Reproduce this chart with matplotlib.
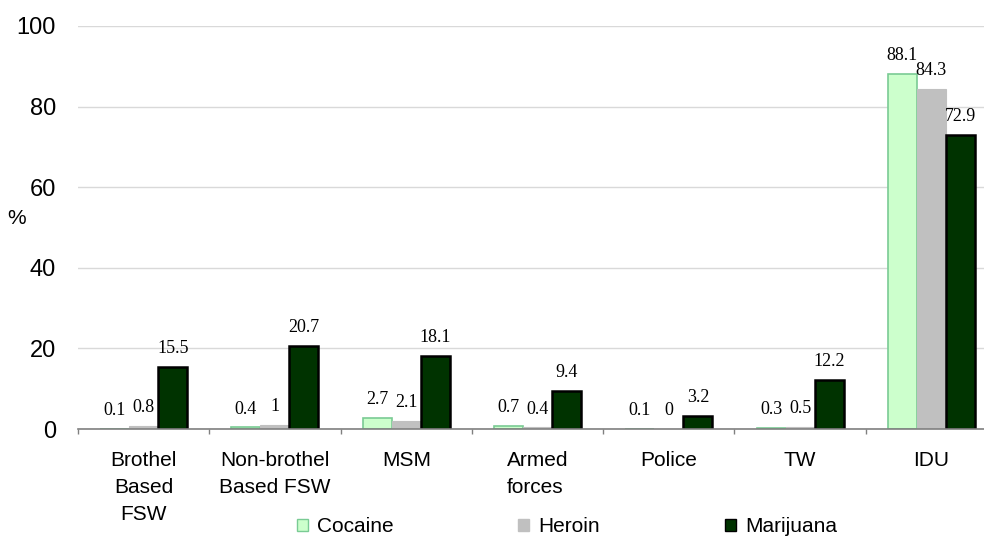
import matplotlib
matplotlib.use("Agg")
import matplotlib.pyplot as plt
import numpy as np
from matplotlib.patches import Patch

categories = ["Brothel\nBased\nFSW", "Non-brothel\nBased FSW", "MSM", "Armed\nforces",
              "Police", "TW", "IDU"]
series_names = ["Cocaine", "Heroin", "Marijuana"]
cocaine = [0.1, 0.4, 2.7, 0.7, 0.1, 0.3, 88.1]
heroin = [0.8, 1, 2.1, 0.4, 0, 0.5, 84.3]
marijuana = [15.5, 20.7, 18.1, 9.4, 3.2, 12.2, 72.9]
yticks = [0, 20, 40, 60, 80, 100]

fill_colors = ["#CCFFCC", "#C0C0C0", "#003300"]
edge_colors = ["#7ACB94", "#C0C0C0", "#000000"]
edge_widths = [1.2, 0.8, 1.8]

plt.rcParams['font.family'] = ['Liberation Sans', 'DejaVu Sans']

fig = plt.figure(figsize=(9.84, 5.36), dpi=100)
ax = fig.add_axes([0.0793, 0.1996, 0.934, 0.7519])

x = np.arange(len(categories))
w = 0.221
data = [cocaine, heroin, marijuana]
for i, (vals, name) in enumerate(zip(data, series_names)):
    pos = x + (i - 1) * w
    ax.bar(pos, vals, width=w, color=fill_colors[i], edgecolor=edge_colors[i],
           linewidth=edge_widths[i], label=name, zorder=3)
    for px, v in zip(pos, vals):
        ax.annotate(f"{v:g}", (px, v), xytext=(0, 10), textcoords="offset points",
                    ha="center", va="baseline", fontsize=13,
                    family=['Liberation Serif', 'DejaVu Serif'], zorder=4)

ax.set_xlim(-0.5, len(categories) - 0.5)
ax.set_ylim(0, 100)
ax.set_yticks(yticks)
ax.tick_params(axis='y', length=0, pad=16, labelsize=17)
ax.yaxis.grid(True, color="#D9D9D9", linewidth=1.0, zorder=0)
ax.set_axisbelow(True)

ax.set_xticks(np.arange(-0.5, len(categories)), labels=[""] * (len(categories) + 1))
ax.set_xticks(x, labels=categories, minor=True, linespacing=1.56)
ax.tick_params(axis='x', which='major', length=3.6, width=1.0, color="#808080", direction='out')
ax.tick_params(axis='x', which='minor', length=0, pad=15.5, labelsize=15)
for lbl in ax.get_xticklabels(minor=True):
    lbl.set_linespacing(1.56)
    if lbl.get_text().startswith("Armed"):
        lbl.set_multialignment("left")

for s in ["left", "right", "top"]:
    ax.spines[s].set_visible(False)
ax.spines["bottom"].set_color("#808080")
ax.spines["bottom"].set_linewidth(1.2)
ax.spines["bottom"].set_zorder(5)

fig.text(17 / 984, 1 - 218 / 536, "%", fontsize=15, ha="center", va="center")

legend_x = [297 / 984, 518 / 984, 725 / 984]
for i, name in enumerate(series_names):
    h = Patch(facecolor=fill_colors[i], edgecolor=edge_colors[i] if i != 1 else fill_colors[i],
              linewidth=1.0)
    fig.legend(handles=[h], labels=[name], loc="center left",
               bbox_to_anchor=(legend_x[i], 1 - 527 / 536), frameon=False, fontsize=15,
               handlelength=0.55, handleheight=0.55, handletextpad=0.4, borderpad=0,
               borderaxespad=0)

fig.savefig("out.png", dpi=100)
